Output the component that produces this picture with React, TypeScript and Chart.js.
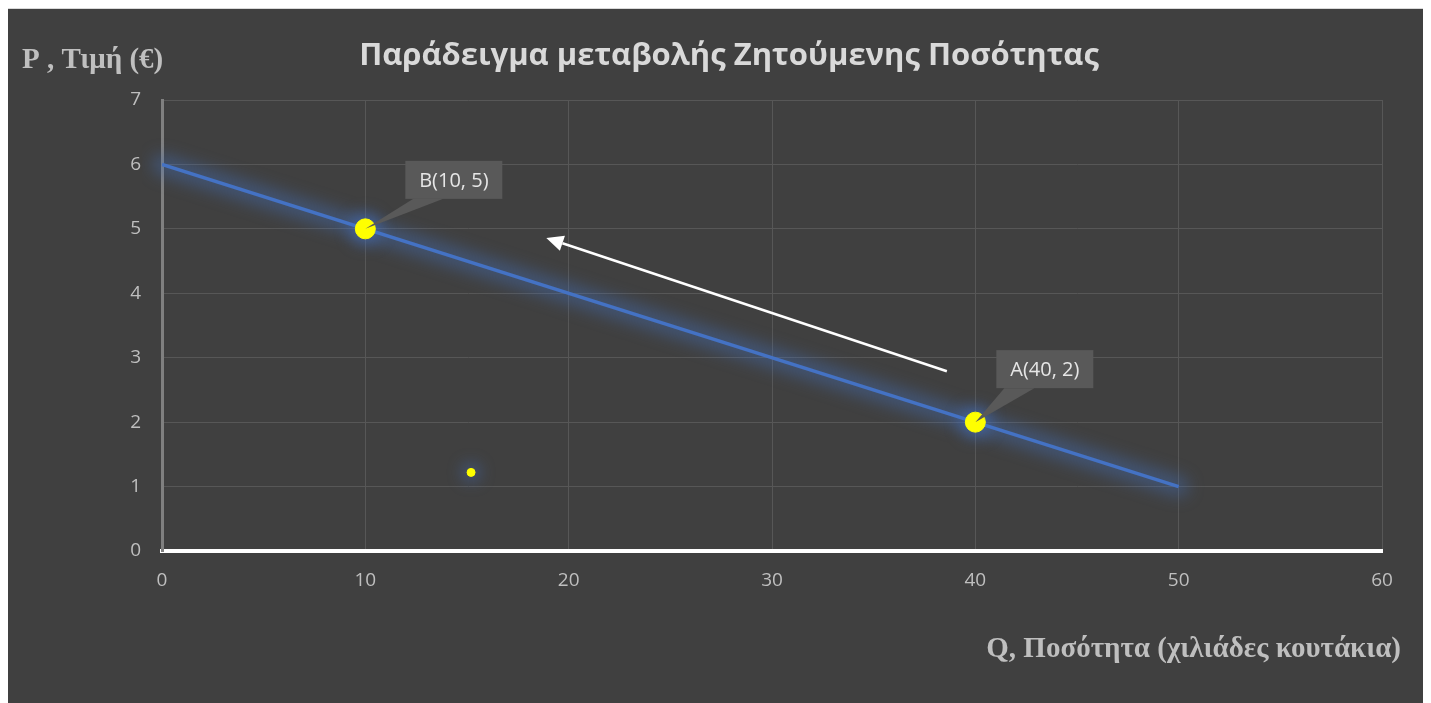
import React, { useEffect, useRef } from "react";
import { Chart, registerables } from "chart.js";

Chart.register(...registerables);

const TITLE = "Παράδειγμα μεταβολής Ζητούμενης Ποσότητας";
const Y_TITLE = "P , Τιμή (€)";
const X_TITLE = "Q, Ποσότητα (χιλιάδες κουτάκια)";

const demandQ = [0, 50];
const demandP = [6, 1];
const pointQ = [10, 40];
const pointP = [5, 2];
const pointLabels = ["B(10, 5)", "A(40, 2)"];
const strayQ = [15.2];
const strayP = [1.22];
const arrowFrom = [38.6, 2.79];
const arrowTo = [18.9, 4.86];

const X_TICKS = [0, 10, 20, 30, 40, 50, 60];
const Y_TICKS = [0, 1, 2, 3, 4, 5, 6, 7];

const glowPlugin = {
  id: "glow",
  beforeDatasetsDraw(chart: any) {
    const ctx = chart.ctx;
    const area = chart.chartArea;
    ctx.save();
    ctx.beginPath();
    ctx.rect(area.left - 20, area.top - 20, area.right - area.left + 40, area.bottom - area.top + 20);
    ctx.clip();
    ctx.filter = "blur(8px)";
    const lineEls = chart.getDatasetMeta(0).data;
    ctx.strokeStyle = "rgba(68,114,196,0.4)";
    ctx.lineWidth = 20;
    ctx.lineCap = "round";
    ctx.beginPath();
    lineEls.forEach((el: any, i: number) => {
      if (i === 0) ctx.moveTo(el.x, el.y);
      else ctx.lineTo(el.x, el.y);
    });
    ctx.stroke();
    ctx.fillStyle = "rgba(68,114,196,0.6)";
    [1, 2].forEach((di) => {
      chart.getDatasetMeta(di).data.forEach((el: any) => {
        const r = di === 1 ? 15 : 8;
        ctx.beginPath();
        ctx.arc(el.x, el.y, r, 0, Math.PI * 2);
        ctx.fill();
      });
    });
    ctx.restore();
  },
};

const decorPlugin = {
  id: "decor",
  afterDraw(chart: any) {
    const ctx = chart.ctx;
    const xs = chart.scales.x;
    const ys = chart.scales.y;
    ctx.save();
    ctx.fillStyle = "#d9d9d9";
    ctx.font = "bold 31px 'Open Sans'";
    ctx.textAlign = "center";
    ctx.textBaseline = "middle";
    ctx.fillText(TITLE, 721, 47);
    ctx.fillStyle = "#bfbfbf";
    ctx.font = "bold 29px 'Liberation Serif'";
    ctx.textAlign = "left";
    ctx.fillText(Y_TITLE, 14, 52);
    ctx.textAlign = "right";
    ctx.fillText(X_TITLE, 1393, 641);

    const x1 = xs.getPixelForValue(arrowFrom[0]);
    const y1 = ys.getPixelForValue(arrowFrom[1]);
    const x2 = xs.getPixelForValue(arrowTo[0]);
    const y2 = ys.getPixelForValue(arrowTo[1]);
    const ang = Math.atan2(y2 - y1, x2 - x1);
    const head = 17;
    const hw = 8;
    const bx = x2 - head * Math.cos(ang);
    const by = y2 - head * Math.sin(ang);
    ctx.strokeStyle = "#ffffff";
    ctx.lineWidth = 2.5;
    ctx.beginPath();
    ctx.moveTo(x1, y1);
    ctx.lineTo(bx, by);
    ctx.stroke();
    ctx.fillStyle = "#ffffff";
    ctx.beginPath();
    ctx.moveTo(x2, y2);
    ctx.lineTo(bx - hw * Math.sin(ang), by + hw * Math.cos(ang));
    ctx.lineTo(bx + hw * Math.sin(ang), by - hw * Math.cos(ang));
    ctx.closePath();
    ctx.fill();

    const offsets = [
      { dx: 40, dy: -68 },
      { dx: 21, dy: -72 },
    ];
    pointQ.forEach((q, i) => {
      const px = xs.getPixelForValue(q);
      const py = ys.getPixelForValue(pointP[i]);
      const w = 97;
      const h = 38;
      const left = px + offsets[i].dx;
      const top = py + offsets[i].dy;
      ctx.fillStyle = "#595959";
      ctx.beginPath();
      ctx.moveTo(left + 8, top + h);
      ctx.lineTo(px, py);
      ctx.lineTo(left + 38, top + h);
      ctx.closePath();
      ctx.fill();
      ctx.fillRect(left, top, w, h);
      ctx.fillStyle = "#e6e6e6";
      ctx.font = "20px 'Open Sans'";
      ctx.textAlign = "center";
      ctx.textBaseline = "middle";
      ctx.fillText(pointLabels[i], left + w / 2, top + h / 2 + 1);
    });
    ctx.restore();
  },
};

export default function App() {
  const ref = useRef<HTMLCanvasElement>(null);
  useEffect(() => {
    if (!ref.current) return;
    const chart = new Chart(ref.current, {
      type: "scatter",
      data: {
        datasets: [
          {
            type: "line",
            data: demandQ.map((q, i) => ({ x: q, y: demandP[i] })),
            borderColor: "#4472c4",
            borderWidth: 3.5,
            pointRadius: 0,
            showLine: true,
            order: 3,
          } as any,
          {
            data: pointQ.map((q, i) => ({ x: q, y: pointP[i] })),
            backgroundColor: "#ffff00",
            borderColor: "#ffff00",
            pointRadius: 10,
            order: 1,
          },
          {
            data: strayQ.map((q, i) => ({ x: q, y: strayP[i] })),
            backgroundColor: "#ffff00",
            borderColor: "#ffff00",
            pointRadius: 4,
            order: 1,
          },
        ],
      },
      options: {
        animation: false,
        responsive: false,
        layout: { padding: { left: 0, right: 49, top: 91, bottom: 0 } },
        plugins: {
          legend: { display: false },
          tooltip: { enabled: false },
          title: { display: false },
        },
        scales: {
          x: {
            type: "linear",
            min: 0,
            max: 60,
            afterFit: (s: any) => {
              s.height = 152;
            },
            afterBuildTicks: (s: any) => {
              s.ticks = X_TICKS.map((v) => ({ value: v }));
            },
            grid: { color: "#575757", lineWidth: 1, drawTicks: false },
            border: { color: "#ffffff", width: 4 },
            ticks: {
              color: "#bfbfbf",
              font: { family: "'Open Sans'", size: 19 },
              padding: 18,
            },
          },
          y: {
            type: "linear",
            min: 0,
            max: 7,
            afterFit: (s: any) => {
              s.width = 154;
            },
            afterBuildTicks: (s: any) => {
              s.ticks = Y_TICKS.map((v) => ({ value: v }));
            },
            grid: { color: "#575757", lineWidth: 1, drawTicks: false },
            border: { color: "#808080", width: 3 },
            ticks: {
              color: "#bfbfbf",
              font: { family: "'Open Sans'", size: 19 },
              padding: 21,
            },
          },
        },
      },
      plugins: [glowPlugin, decorPlugin],
    });
    return () => chart.destroy();
  }, []);
  return (
    <div
      style={{
        width: 1423,
        height: 695,
        background: "#404040",
        borderTop: "1px solid #d9d9d9",
        boxSizing: "border-box",
      }}
    >
      <canvas ref={ref} width={1423} height={694} style={{ display: "block" }} />
    </div>
  );
}
